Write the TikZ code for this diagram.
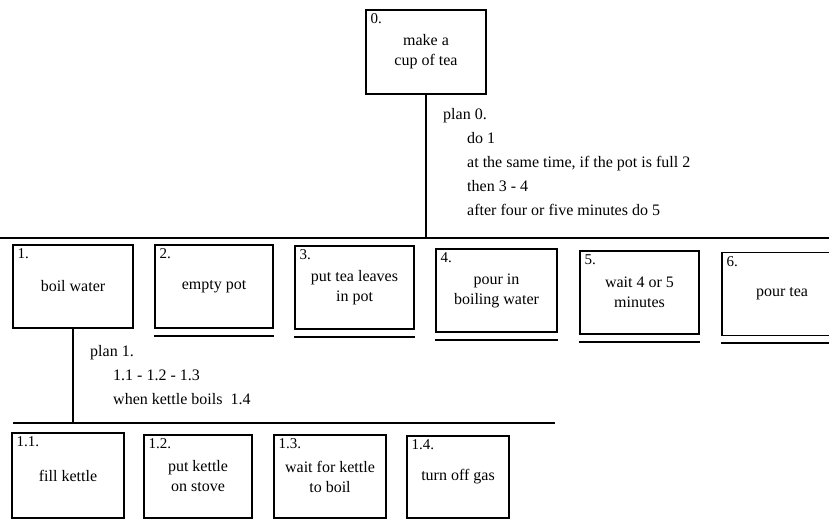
\documentclass[tikz,border=0pt]{standalone}
\usepackage{fontspec}
\setmainfont{Liberation Serif}
\usepackage{tikz}
\usetikzlibrary{positioning}

\begin{document}
\begin{tikzpicture}[
    x=1pt, y=-1pt,
    %% box styles
    task/.style={
        draw, line width=1.1pt,
        minimum width=120pt, minimum height=83pt,
        align=center, inner sep=0pt,
        font=\fontsize{16}{20}\selectfont
    },
    num/.style={anchor=north west, inner sep=0pt, xshift=5pt, yshift=-4pt,
        font=\fontsize{15}{18}\selectfont},
    %% line styles
    bar/.style={line width=2.2pt},
    stem/.style={line width=1.6pt},
    ul/.style={line width=2pt},
    %% plan text
    plan/.style={anchor=north west, inner sep=0pt, align=left,
        font=\fontsize{16}{24}\selectfont}
]
    \clip (0,0) rectangle (829,521);

    %% --- top task -------------------------------------------
    \node[task, minimum height=84pt, label={[num]north west:0.}] (t0) at (426,52) {make a\\cup of tea};

    \coordinate (bar0l) at (0,238);
    \coordinate (bar0r) at (829,238);
    \draw[bar] (bar0l) -- (bar0r);
    \draw[stem] (t0.south) -- (t0.south |- bar0l);

    \node[plan] (plan0) at (443,108) {%
        plan 0.\\
        \hspace*{24pt}do 1\\
        \hspace*{24pt}at the same time, if the pot is full 2\\
        \hspace*{24pt}then 3 - 4\\
        \hspace*{24pt}after four or five minutes do 5};

    %% --- level 1 ---------------------------------------------
    \node[task, label={[num]north west:1.}] (t1) at (73,286.5) {boil water};
    \node[task, minimum width=118pt, label={[num]north west:2.}] (t2) at (214,286.5) {empty pot};
    \node[task, minimum width=119pt, label={[num]north west:3.}] (t3) at (354.5,287.5) {put tea leaves\\in pot};
    \node[task, minimum width=121pt, label={[num]north west:4.}] (t4) at (496.5,290.5) {pour in\\boiling water};
    \node[task, minimum width=119pt, label={[num]north west:5.}] (t5) at (639.5,292.5) {wait 4 or 5\\minutes};
    \node[task, label={[num]north west:6.}] (t6) at (782,294) {pour tea};

    \foreach \n in {t2,t3,t4,t5,t6}
        \draw[ul] ([yshift=-7pt]\n.south west) -- ([yshift=-7pt]\n.south east);

    \coordinate (bar1l) at (13,423);
    \coordinate (bar1r) at (555,423);
    \draw[bar] (bar1l) -- (bar1r);
    \draw[stem] (t1.south) -- (t1.south |- bar1l);

    \node[plan] (plan1) at (90,345) {%
        plan 1.\\
        \hspace*{23pt}1.1 - 1.2 - 1.3\\
        \hspace*{23pt}when kettle boils\ \ 1.4};

    %% --- level 2 ---------------------------------------------
    \node[task, minimum width=112pt, minimum height=85pt, label={[num]north west:1.1.}] (t11) at (68,475.5) {fill kettle};
    \node[task, minimum width=108pt, label={[num]north west:1.2.}] (t12) at (198,476.5) {put kettle\\on stove};
    \node[task, minimum width=112pt, label={[num]north west:1.3.}] (t13) at (330,476.5) {wait for kettle\\to boil};
    \node[task, minimum width=102pt, minimum height=82pt, label={[num]north west:1.4.}] (t14) at (458,477) {turn off gas};

\end{tikzpicture}
\end{document}
